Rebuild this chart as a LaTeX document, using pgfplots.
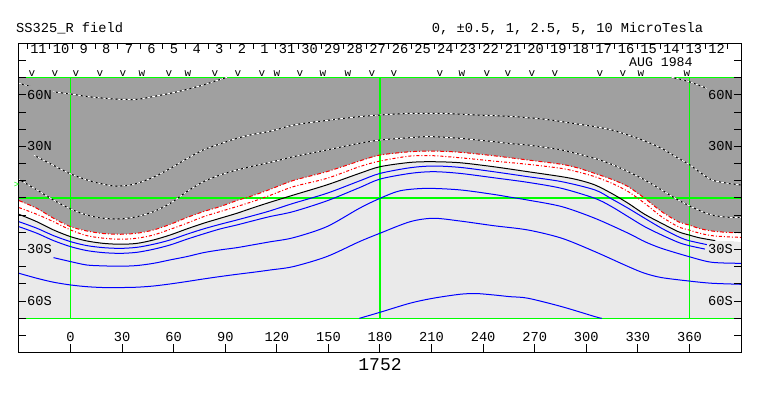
\documentclass[border=0pt]{standalone}
\usepackage{pgfplots}
\usepackage{pgfplotstable}
\pgfplotsset{compat=1.18}
\usepackage{fontspec}
\setmainfont{Liberation Mono}
\definecolor{dgray}{RGB}{160,160,160}
\definecolor{lgray}{RGB}{234,234,234}
\definecolor{gr}{RGB}{0,255,0}
\definecolor{bl}{RGB}{0,0,255}
\definecolor{rd}{RGB}{255,0,0}
\pgfplotstableread{
lon lat
-30 66.7
-20 64
-10 61.8
0 60.5
10 59
20 58
29 57.4
38.6 57.4
48 59
58 60.9
67 63
77 65.7
84 68
91 70.2
}\wdA
\pgfplotstableread{
lon lat
349.6 70.2
360 67.6
373 62.8
380 61.5
}\wdB
\pgfplotstableread{
lon lat
-21.5 25
-10 19
0 14
9.5 10.5
17 8.5
25 7
32 7.2
38.6 8.5
48 12
58 17.2
67 22.5
77 27.9
87 31.5
96.7 34.7
106 37
116 38.8
129.6 42.4
144 44.5
158.8 46.3
170 47.5
180 48.3
197.5 49.2
216.9 49.2
236 48.3
255.6 47.5
266 46.7
276 45.8
285.7 44.4
295 43
305 41.5
315 39.5
324.4 36.6
334 33.2
343.8 28.9
352 24
359.7 19.6
366 15
373 10.5
382.6 8.5
390 7.6
}\wdC
\pgfplotstableread{
lon lat
-30 10.8
-19.6 4.7
-9.9 -1.2
0 -6.4
9.5 -9.9
19.2 -11.8
28.9 -12.2
38.6 -10.9
48.3 -7.9
58 -3.1
67.6 3.7
77.3 9.5
87 13.4
96.7 16.3
106 18.5
116 20.7
129.6 24
149 27.9
168 31.8
180 33.7
197.5 35.1
209 35.7
226.6 34.7
246 32.8
256 31.6
266 30.8
285.7 27.9
305 23
315 19.5
324.4 15.3
334 10.5
343.8 4.7
353.5 -1.2
363 -6
373 -9.9
382.6 -11.2
390 -11.2
}\wdD
\begin{document}
\begin{tikzpicture}[x=1pt,y=1pt,font=\fontsize{13.7}{16}\selectfont]
\path[use as bounding box] (0,0) rectangle (763,396);
\begin{axis}[at={(19pt,43.3pt)}, anchor=south west, scale only axis,
  width=722pt, height=309.4pt, xmin=-30, xmax=390, ymin=-90, ymax=90,
  xtick=\empty, ytick=\empty, axis on top,
  axis line style={black, line width=1pt}]
% background regions
\addplot[fill=lgray, draw=none] coordinates {(-30,-70) (390,-70) (390,70) (-30,70)};
% white band: above the zero (black) contour
\addplot[fill=white, draw=none] coordinates {
(-30,-9.5) (-19.6,-13.8) (-9.9,-18.6) (0,-22.5) (9.5,-25) (19.2,-26.4) (28.9,-26.9) (38.6,-26.4) (48.3,-24.4) (58,-21.5) (67.6,-18) (77.3,-14.7) (87,-11.8) (96.7,-8.9) (106.4,-5.6) (116,-2.5) (129.6,1.7) (149,7.6) (168,14.3) (180,18.2) (197.5,20.7) (211,21.1) (226.6,20.5) (246,18.2) (266,15.3) (285.7,12.4) (295.4,10.5) (305,7.6) (314.7,2.7) (324.4,-3.1) (334,-9.5) (343.8,-14.7) (353.5,-19.6) (359.7,-21.5) (366,-23.2) (375,-24.8) (382,-25.3) (390,-25.5)
(390,70) (-30,70)};
% dark gray: above the upper red contour
\addplot[fill=dgray, draw=none] coordinates {
(-30,-1.5) (-19.6,-6) (-9.9,-11.8) (0,-16.7) (9.5,-19.2) (19.2,-20.7) (28.9,-21.1) (38.6,-20.5) (48.3,-18.6) (58,-15.3) (67.6,-11.4) (77.3,-7.9) (87,-5) (96.7,-1.5) (106.4,1.5) (116,5) (129.6,10.2) (149,15.3) (168,21.5) (180,25) (197.5,26.9) (211,27.3) (226.6,26.6) (246,24.6) (266,22.1) (285.7,19.6) (295,17.5) (305,14.3) (315,10.8) (324.4,6.6) (334,-0.2) (343.8,-7.9) (353.5,-13.8) (359.7,-15.7) (366,-17.8) (373,-19.2) (382,-20) (390,-20.2)
(390,70) (-30,70)};
% green grid lines
\addplot[gr, line width=1.2pt] coordinates {(-30,70) (390,70)};
\addplot[gr, line width=1.2pt] coordinates {(-30,0) (390,0)};
\addplot[gr, line width=1.2pt] coordinates {(-30,-70) (390,-70)};
\addplot[gr, line width=1.2pt] coordinates {(0,-70) (0,70)};
\addplot[gr, line width=1.2pt] coordinates {(180,-70) (180,70)};
\addplot[gr, line width=1.2pt] coordinates {(360,-70) (360,70)};
% negative contours (dotted, on dark gray)
\addplot[black, line width=1pt, smooth] table[x=lon,y=lat] {\wdA};
\addplot[white, line width=1pt, smooth, dash pattern=on 3pt off 2pt] table[x=lon,y=lat] {\wdA};
\addplot[black, line width=1pt, smooth] table[x=lon,y=lat] {\wdB};
\addplot[white, line width=1pt, smooth, dash pattern=on 3pt off 2pt] table[x=lon,y=lat] {\wdB};
\addplot[black, line width=1pt, smooth] table[x=lon,y=lat] {\wdC};
\addplot[white, line width=1pt, smooth, dash pattern=on 3pt off 2pt] table[x=lon,y=lat] {\wdC};
\addplot[black, line width=1pt, smooth] table[x=lon,y=lat] {\wdD};
\addplot[white, line width=1pt, smooth, dash pattern=on 3pt off 2pt] table[x=lon,y=lat] {\wdD};
% red contours
\addplot[rd, line width=1pt, smooth, dash pattern=on 4pt off 2pt on 1pt off 2pt] coordinates {
(-30,-1.5) (-19.6,-6) (-9.9,-11.8) (0,-16.7) (9.5,-19.2) (19.2,-20.7) (28.9,-21.1) (38.6,-20.5) (48.3,-18.6) (58,-15.3) (67.6,-11.4) (77.3,-7.9) (87,-5) (96.7,-1.5) (106.4,1.5) (116,5) (129.6,10.2) (149,15.3) (168,21.5) (180,25) (197.5,26.9) (211,27.3) (226.6,26.6) (246,24.6) (266,22.1) (285.7,19.6) (295,17.5) (305,14.3) (315,10.8) (324.4,6.6) (334,-0.2) (343.8,-7.9) (353.5,-13.8) (359.7,-15.7) (366,-17.8) (373,-19.2) (382,-20) (390,-20.2)};
\addplot[rd, line width=1pt, smooth, dash pattern=on 3pt off 2pt on 1pt off 2pt] coordinates {
(-30,-5.6) (-19.6,-9.5) (-9.9,-13.8) (0,-18.6) (9.5,-21.9) (19.2,-23.4) (28.9,-24) (38.6,-23.4) (48.3,-21.5) (58,-18.2) (67.6,-14.7) (77.3,-10.9) (87,-7.9) (96.7,-5) (106.4,-1.9) (116,1.5) (129.6,6.6) (149,11.4) (168,18.2) (180,21.5) (197.5,24.4) (211,24.6) (226.6,23.4) (246,21.5) (266,19.6) (285.7,17.2) (295,15.2) (305,12.4) (315,8.5) (324.4,3.7) (334,-3.1) (343.8,-10.9) (353.5,-16.7) (359.7,-18.6) (366,-20.5) (373,-21.9) (382,-22.6) (390,-22.9)};
% zero contour
\addplot[black, line width=1pt, smooth] coordinates {
(-30,-9.5) (-19.6,-13.8) (-9.9,-18.6) (0,-22.5) (9.5,-25) (19.2,-26.4) (28.9,-26.9) (38.6,-26.4) (48.3,-24.4) (58,-21.5) (67.6,-18) (77.3,-14.7) (87,-11.8) (96.7,-8.9) (106.4,-5.6) (116,-2.5) (129.6,1.7) (149,7.6) (168,14.3) (180,18.2) (197.5,20.7) (211,21.1) (226.6,20.5) (246,18.2) (266,15.3) (285.7,12.4) (295.4,10.5) (305,7.6) (314.7,2.7) (324.4,-3.1) (334,-9.5) (343.8,-14.7) (353.5,-19.6) (359.7,-21.5) (366,-23.2) (375,-24.8)};
% positive contours (blue)
\addplot[bl, line width=1pt, smooth] coordinates {
(-30,-13.8) (-19.6,-17.6) (-9.9,-21.9) (0,-25.4) (9.5,-27.7) (19.2,-28.9) (28.9,-29.3) (38.6,-28.7) (48.3,-26.9) (58,-24.4) (67.6,-21.1) (77.3,-18) (87,-15.3) (96.7,-12.8) (106.4,-10.2) (116,-7.5) (129.6,-3.1) (149,2.7) (168,9.9) (180,14.3) (197.5,17.6) (211,18.6) (226.6,17.8) (246,15.3) (266,12.4) (285.7,9.5) (305,4.7) (314.7,-0.5) (324.4,-6) (334,-11.8) (343.8,-17.6) (353.5,-22.5) (359.7,-24.8) (371,-27.3)};
\addplot[bl, line width=1pt, smooth] coordinates {
(-30,-16.7) (-19.6,-20.5) (-9.9,-24.8) (0,-28.3) (9.5,-30.6) (19.2,-31.8) (28.9,-32.2) (38.6,-31.6) (48.3,-29.8) (58,-27.3) (67.6,-24) (77.3,-20.9) (87,-18) (96.7,-15.7) (106.4,-13.2) (116,-10.8) (129.6,-7.9) (149,-1.7) (168,6) (180,11) (197.5,14.3) (211,15.3) (226.6,14.3) (246,11.8) (266,9.1) (285.7,5.6) (305,-0.2) (314.7,-5) (324.4,-10.9) (334,-16.7) (343.8,-21.5) (353.5,-25.8) (359.7,-27.7) (369,-29.7)};
\addplot[bl, line width=1pt, smooth] coordinates {
(-9.9,-34.7) (0,-37) (9.5,-39) (19.2,-39.5) (28.9,-39.7) (38.6,-39.3) (48.3,-38) (58,-36) (67.6,-34.1) (77.3,-31.8) (87,-30.2) (96.7,-28.9) (106.4,-27.2) (116,-25.5) (129.6,-23.1) (149,-16.7) (168,-6) (180,-0.2) (191.7,4.2) (207,5.6) (226.6,4.7) (246,2.1) (255.6,0.5) (266,-1.2) (285.7,-5) (305,-11.8) (324.4,-20.5) (334,-25.4) (343.8,-29.3) (359.7,-34.1) (373,-37.4) (390,-38)};
\addplot[bl, line width=1pt, smooth] coordinates {
(-30,-43.8) (-19.6,-46.7) (-9.9,-49) (0,-50.6) (9.5,-51.6) (19.2,-52.1) (28.9,-52.1) (38.6,-51.9) (48.3,-51.2) (58,-50) (67.6,-48.6) (77.3,-47.1) (87,-45.7) (96.7,-44.4) (106.4,-43.2) (116,-41.9) (129.6,-39.9) (149,-34.1) (168,-25.4) (180,-20.5) (197.5,-13.8) (211,-11.8) (226.6,-13.4) (246,-16.1) (266,-18.6) (285.7,-23.4) (305,-31.2) (324.4,-39.9) (334,-43.8) (343.8,-46.3) (359.7,-48.3) (373,-49.6) (390,-50.2)};
\addplot[bl, line width=1pt, smooth] coordinates {
(168,-70) (180,-66.5) (197.5,-61.2) (211,-58.3) (226.6,-56) (236,-55.6) (246,-56.4) (255.6,-57.4) (266,-58.3) (285.7,-63.2) (305,-69) (309,-70)};
\end{axis}
% ---- frame ticks ----
\foreach \la in {-80,-70,...,80}{
  \draw[black, line width=1pt] (19,{198+1.719*\la}) -- ++(7,0);
  \draw[black, line width=1pt] (741,{198+1.719*\la}) -- ++(-7,0);
}
\foreach \lo in {0,30,...,360}{
  \draw[black, line width=1pt] ({19+1.719*(\lo+30)},43.3) -- ++(0,9);
  \node[anchor=base, inner sep=0pt] at ({19+1.719*(\lo+30)},54.5) {\lo};
}
% latitude labels
\foreach \la/\t in {60/60N,30/30N}{
  \node[anchor=base west, fill=dgray, inner xsep=1pt, inner ysep=4pt] at (26,{198+1.719*\la-4.3}) {\t};
  \node[anchor=base east, fill=dgray, inner xsep=1pt, inner ysep=4pt] at (734,{198+1.719*\la-4.3}) {\t};
}
\foreach \la/\t in {-30/30S,-60/60S}{
  \node[anchor=base west, fill=lgray, inner xsep=1pt, inner ysep=4pt] at (26,{198+1.719*\la-4.3}) {\t};
  \node[anchor=base east, fill=lgray, inner xsep=1pt, inner ysep=4pt] at (734,{198+1.719*\la-4.3}) {\t};
}
% day ticks and labels along the top
\foreach \k in {0,...,31}{
  \draw[black, line width=1pt] ({27.2+22.6*\k},352.7) -- ++(0,-6);
}
\foreach \d [count=\k from 0] in {11,10,9,8,7,6,5,4,3,2,1,31,30,29,28,27,26,25,24,23,22,21,20,19,18,17,16,15,14,13,12}{
  \node[anchor=base, inner sep=0pt] at ({38.5+22.6*\k},342.5) {\d};
}
\node[anchor=base west, inner sep=0pt, font=\fontsize{13.2}{15}\selectfont] at (629,329.8) {AUG 1984};
\foreach \x/\c in {32/v,55/v,76/v,100/v,123/v,142/w,169/v,188/w,215/v,238/v,262/v,277/w,300/v,323/w,348/w,372/v,394/v,440/v,462/w,487/v,508/v,532/v,555/v,600/v,623/v,641/w,687/w}{
  \node[anchor=base, inner sep=0pt, font=\fontsize{11}{12}\selectfont] at (\x,319.5) {\c};
}
% titles
\node[anchor=base west, inner sep=0pt] at (16,363.7) {SS325\_R field};
\node[anchor=base west, inner sep=0pt] at (431.7,363.7) {0, ±0.5, 1, 2.5, 5, 10 MicroTesla};
\node[anchor=base, inner sep=0pt, font=\fontsize{18}{20}\selectfont] at (380,25.3) {1752};
\node[anchor=center, inner sep=0pt, text=gr, font=\fontsize{9}{10}\selectfont] at (16.5,210.7) {>};
\end{tikzpicture}
\end{document}
